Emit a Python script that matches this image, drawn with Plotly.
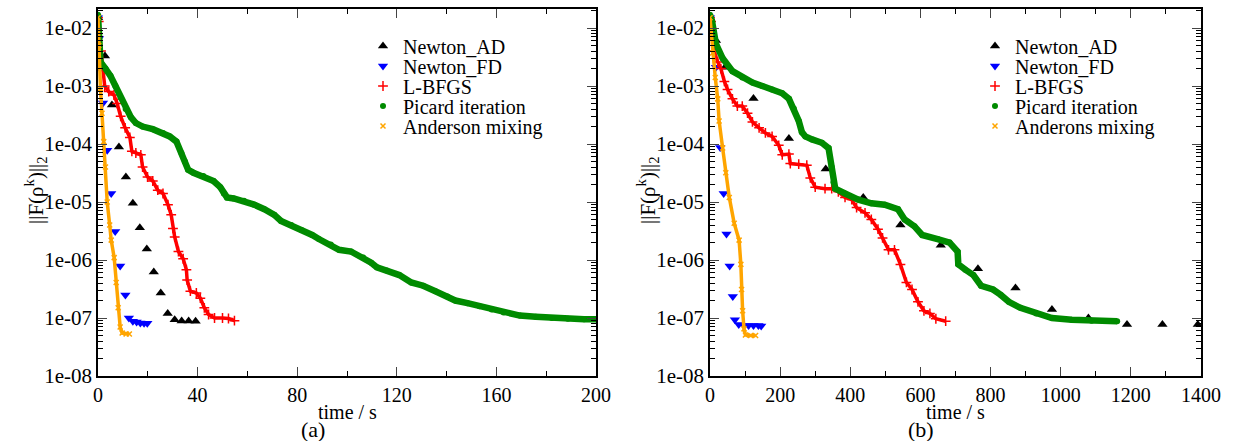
import plotly.graph_objects as go

# ---------------- panel (a) data ----------------
a_ad_t = [0.0, 2.8, 5.6, 8.4, 11.2, 14.0, 16.8, 19.6, 22.4, 25.2, 28.0, 30.8, 33.6, 36.4, 39.2]
a_ad_v = [1.5e-2, 3.3e-3, 4.7e-4, 8.9e-5, 2.7e-5, 9.5e-6, 3.6e-6, 1.55e-6, 6.2e-7, 2.7e-7, 1.2e-7, 9.3e-8, 8.9e-8, 8.9e-8, 8.8e-8]

a_fd_t = [0.0, 0.4, 0.9, 2.0, 3.7, 5.3, 6.9, 8.9, 11.0, 12.4, 14.0, 15.5, 17.0, 18.5, 19.8]
a_fd_v = [1.5e-2, 6.6e-3, 2.0e-3, 5.1e-4, 7.8e-5, 1.4e-5, 3.1e-6, 7.9e-7, 2.5e-7, 1.0e-7, 8.8e-8, 8.5e-8, 8.2e-8, 8.1e-8, 8.1e-8]

a_lb_t = [0.0, 0.3, 1.2, 2.7, 4.3, 6.4, 7.7, 9.1, 10.9, 12.8, 13.6, 15.2, 17.2, 17.9, 19.9, 22.0, 24.0,
          26.1, 28.1, 29.4, 30.1, 30.8, 32.3, 34.2, 35.5, 35.8, 37.1, 39.5, 41.1, 42.7, 44.4, 46.8,
          50.0, 52.4, 54.8]
a_lb_v = [1.5e-2, 1.3e-2, 4.0e-3, 1.0e-3, 8.0e-4, 7.0e-4, 5.0e-4, 3.0e-4, 1.9e-4, 1.3e-4, 7.5e-5, 7.0e-5,
          6.5e-5, 4.0e-5, 2.7e-5, 2.3e-5, 1.6e-5, 1.4e-5, 9.0e-6, 6.0e-6, 3.5e-6, 2.5e-6, 1.4e-6,
          1.05e-6, 6.8e-7, 4.5e-7, 2.9e-7, 2.7e-7, 2.2e-7, 1.5e-7, 1.15e-7, 1.0e-7, 1.0e-7, 9.8e-8, 9.0e-8]

a_pi_t = [0.0, 0.5, 1.0, 3.0, 5.0, 7.0, 9.1, 11.1, 13.2, 15.2, 17.9, 22.0, 26.1, 28.8, 31.5, 33.5, 34.9,
          36.2, 38.3, 42.3, 46.4, 49.1, 50.5, 51.8, 54.5, 58.6, 62.7, 66.8, 70.8, 73.5, 77.6, 81.7,
          86.0, 88.7, 93.5, 96.8, 101.6, 106.5, 109.7, 112.0, 116.0, 121.0, 125.8, 130.6, 135.5,
          140.3, 143.5, 148.4, 153.2, 158.1, 162.9, 169.4, 175.8, 182.3, 188.7, 195.2, 200.0]
a_pi_v = [1.7e-2, 5.0e-3, 2.6e-3, 2.0e-3, 1.5e-3, 1.0e-3, 6.3e-4, 4.0e-4, 2.9e-4, 2.3e-4, 2.0e-4, 1.8e-4,
          1.55e-4, 1.35e-4, 1.1e-4, 7.0e-5, 5.0e-5, 3.6e-5, 3.2e-5, 2.8e-5, 2.3e-5, 1.8e-5, 1.4e-5,
          1.2e-5, 1.15e-5, 1.05e-5, 9.0e-6, 7.5e-6, 6.0e-6, 4.7e-6, 4.0e-6, 3.3e-6, 2.7e-6, 2.3e-6,
          1.85e-6, 1.5e-6, 1.4e-6, 1.1e-6, 9.0e-7, 7.5e-7, 6.6e-7, 5.5e-7, 4.1e-7, 3.6e-7, 2.9e-7,
          2.35e-7, 2.0e-7, 1.8e-7, 1.6e-7, 1.4e-7, 1.25e-7, 1.1e-7, 1.05e-7, 1.0e-7, 9.7e-8, 9.5e-8, 9.5e-8]

a_an_t = [0.0, 0.3, 1.0, 1.6, 2.3, 3.0, 3.7, 4.7, 5.3, 6.5, 7.3, 8.1, 8.9, 9.7, 11.3, 12.6]
a_an_v = [1.5e-2, 5.0e-3, 9.0e-4, 3.4e-4, 1.1e-4, 4.0e-5, 1.0e-5, 4.0e-6, 2.2e-6, 1.1e-6, 4.1e-7, 1.5e-7,
          7.0e-8, 5.5e-8, 5.3e-8, 5.3e-8]

# ---------------- panel (b) data ----------------
b_ad_t = [0, 17, 43, 124, 225, 330, 437, 543, 658, 764, 871, 975, 1079, 1189, 1290, 1391]
b_ad_v = [1.5e-2, 6.1e-3, 2.1e-3, 6.1e-4, 1.25e-4, 3.7e-5, 1.2e-5, 4.0e-6, 1.8e-6, 7.1e-7, 3.3e-7,
          1.4e-7, 1.0e-7, 7.7e-8, 7.7e-8, 7.7e-8]

b_fd_t = [0, 8, 17, 29, 39, 47, 56, 65, 71, 82, 97, 110, 124, 138, 146]
b_fd_v = [1.5e-2, 6.5e-3, 2.1e-3, 8.7e-5, 1.4e-5, 2.8e-6, 7.9e-7, 2.35e-7, 9.3e-8, 7.7e-8, 7.4e-8,
          7.4e-8, 7.4e-8, 7.4e-8, 7.3e-8]

b_lb_t = [0, 3, 12, 22, 31, 41, 50, 64, 78, 92, 107, 121, 140, 158, 177, 196, 206, 225, 229, 253, 276,
          286, 300, 328, 347, 366, 385, 404, 418, 442, 460, 479, 492, 509, 526, 543, 560, 576, 593,
          610, 627, 644, 672]
b_lb_v = [1.5e-2, 1.3e-2, 4.0e-3, 2.6e-3, 2.0e-3, 1.2e-3, 8.7e-4, 6.0e-4, 4.5e-4, 4.5e-4, 3.4e-4, 2.4e-4,
          1.9e-4, 1.55e-4, 1.35e-4, 9.5e-5, 6.5e-5, 6.7e-5, 4.6e-5, 4.5e-5, 4.3e-5, 2.6e-5, 1.8e-5,
          1.7e-5, 1.7e-5, 1.5e-5, 1.2e-5, 1.1e-5, 8.0e-6, 6.5e-6, 5.0e-6, 3.4e-6, 2.4e-6, 1.5e-6,
          1.5e-6, 8.4e-7, 4.1e-7, 3.1e-7, 1.9e-7, 1.33e-7, 1.2e-7, 9.7e-8, 8.8e-8]

b_pi_t = [0, 6, 17, 36, 64, 92, 121, 149, 177, 206, 225, 239, 253, 262, 272, 291, 319, 338, 347, 352,
          357, 385, 423, 460, 498, 536, 555, 583, 605, 649, 683, 706, 708, 728, 751, 773, 807, 829,
          852, 885, 930, 975, 1031, 1088, 1161]
b_pi_v = [1.7e-2, 1.3e-2, 5.3e-3, 3.0e-3, 1.8e-3, 1.4e-3, 1.15e-3, 1.0e-3, 8.7e-4, 7.5e-4, 6.0e-4, 4.1e-4,
          2.5e-4, 1.6e-4, 1.35e-4, 1.2e-4, 1.05e-4, 8.5e-5, 4.0e-5, 2.2e-5, 1.7e-5, 1.4e-5, 1.1e-5,
          9.5e-6, 9.0e-6, 7.5e-6, 5.0e-6, 3.8e-6, 2.7e-6, 2.3e-6, 2.0e-6, 1.4e-6, 8.4e-7, 6.8e-7,
          5.5e-7, 3.6e-7, 3.1e-7, 2.5e-7, 1.9e-7, 1.5e-7, 1.2e-7, 1.0e-7, 9.3e-8, 9.0e-8, 8.8e-8]

b_an_t = [0, 7.5, 15, 22, 26, 36, 45, 55, 69, 83, 88, 90, 93, 97, 101, 116, 130]
b_an_v = [1.5e-2, 3.7e-3, 1.4e-3, 6.0e-4, 2.5e-4, 8.5e-5, 3.2e-5, 1.2e-5, 4.3e-6, 2.2e-6, 8.4e-7, 3.1e-7,
          1.33e-7, 6.5e-8, 5.1e-8, 5.0e-8, 5.0e-8]

names_a = ["Newton_AD", "Newton_FD", "L-BFGS", "Picard iteration", "Anderson mixing"]
names_b = ["Newton_AD", "Newton_FD", "L-BFGS", "Picard iteration", "Anderons mixing"]

y_tick_vals = [1e-8, 1e-7, 1e-6, 1e-5, 1e-4, 1e-3, 1e-2]
y_tick_text = ["1e-08", "1e-07", "1e-06", "1e-05", "1e-04", "1e-03", "1e-02"]
xa_ticks = [0, 40, 80, 120, 160, 200]
xb_ticks = [0, 200, 400, 600, 800, 1000, 1200, 1400]

W, H = 1235, 441
FONT = "Liberation Serif"
FS = 21
XFS = 20
LFS = 20
colors = ["#000000", "#0000ff", "#ff0000", "#008b00", "#ffa500"]
symbols = ["triangle-up", "triangle-down", "cross-thin-open", "circle", "x-thin-open"]
msizes = [9, 9, 7, 6, 5]
band = [0, 0, 3.5, 6.5, 3.5]

# pixel layout
TOP, BOT = 9, 376
PA = (98, 596)
PB = (710, 1201)
leg_rows = [46, 66, 86, 106, 126]
leg_x = {0: 363, 1: 975}

fig = go.Figure()

series_a = [(a_ad_t, a_ad_v), (a_fd_t, a_fd_v), (a_lb_t, a_lb_v), (a_pi_t, a_pi_v), (a_an_t, a_an_v)]
series_b = [(b_ad_t, b_ad_v), (b_fd_t, b_fd_v), (b_lb_t, b_lb_v), (b_pi_t, b_pi_v), (b_an_t, b_an_v)]

legends = {}
for panel, (series, names, xa, ya) in enumerate([
        (series_a, names_a, "x", "y"),
        (series_b, names_b, "x2", "y2")]):
    for i, ((t, v), nm) in enumerate(zip(series, names)):
        if band[i] > 0:
            fig.add_trace(go.Scatter(x=t, y=v, mode="lines", xaxis=xa, yaxis=ya,
                                     line=dict(color=colors[i], width=band[i]),
                                     showlegend=False, hoverinfo="skip"))
        idx = panel * 5 + i + 1
        lname = "legend" if idx == 1 else f"legend{idx}"
        legends[lname] = dict(x=leg_x[panel] / W, y=1 - leg_rows[i] / H, xanchor="left",
                              yanchor="middle", bgcolor="rgba(0,0,0,0)", borderwidth=0,
                              font=dict(family=FONT, size=LFS, color="black"),
                              itemwidth=30)
        fig.add_trace(go.Scatter(
            x=t, y=v, mode="markers", name=nm, xaxis=xa, yaxis=ya, legend=lname,
            marker=dict(symbol=symbols[i], size=msizes[i], color=colors[i],
                        line=dict(color=colors[i], width=1.5 if i in (2, 4) else 0))))

minor_y = [k * 10.0 ** e for e in range(-8, -1) for k in range(2, 10)]
ytop = -2 + (28 - TOP) / ((BOT - 28) / 6)

yaxis_common = dict(type="log", range=[-8, ytop], tickvals=y_tick_vals, ticktext=y_tick_text,
                    ticks="inside", ticklen=9, tickwidth=1.2, showline=True, linecolor="black",
                    linewidth=1.6, mirror="allticks", showgrid=False, zeroline=False,
                    automargin=False, domain=[1 - BOT / H, 1 - TOP / H],
                    tickfont=dict(family=FONT, size=FS, color="black"),
                    minor=dict(ticks="inside", ticklen=5, tickvals=minor_y, tickcolor="black",
                               showgrid=False))
xaxis_common = dict(ticks="inside", ticklen=9, tickwidth=1.2, showline=True, linecolor="black",
                    linewidth=1.6, mirror="allticks", showgrid=False, zeroline=False,
                    automargin=False,
                    tickfont=dict(family=FONT, size=XFS, color="black"))

ytitle = "||F(ρ<sup>k</sup>)||<sub>2</sub>"


def label(text, x, y, size, angle=0):
    return dict(text=text, x=x / W, y=1 - y / H, xref="paper", yref="paper", textangle=angle,
                xanchor="center", yanchor="middle", showarrow=False,
                font=dict(family=FONT, size=size, color="black"))


fig.update_layout(
    width=W, height=H, margin=dict(l=0, r=0, t=0, b=0),
    paper_bgcolor="white", plot_bgcolor="white",
    font=dict(family=FONT, size=FS, color="black"),
    xaxis=dict(domain=[PA[0] / W, PA[1] / W], range=[0, 200], tickvals=xa_ticks,
               minor=dict(ticks="inside", ticklen=5, dtick=20, tickcolor="black"),
               anchor="y", **xaxis_common),
    yaxis=dict(anchor="x", **yaxis_common),
    xaxis2=dict(domain=[PB[0] / W, PB[1] / W], range=[0, 1400], tickvals=xb_ticks,
                minor=dict(ticks="inside", ticklen=5, dtick=100, tickcolor="black"),
                anchor="y2", **xaxis_common),
    yaxis2=dict(anchor="x2", **yaxis_common),
    annotations=[
        label("time / s", (PA[0] + PA[1]) / 2, 412, XFS),
        label("time / s", (PB[0] + PB[1]) / 2, 412, XFS),
        label("(a)", 313, 429, 22),
        label("(b)", 921, 429, 22),
        label(ytitle, 36, 190, FS, -90),
        label(ytitle, 648, 190, FS, -90),
    ],
    **legends,
)

fig.write_html("out.html")
